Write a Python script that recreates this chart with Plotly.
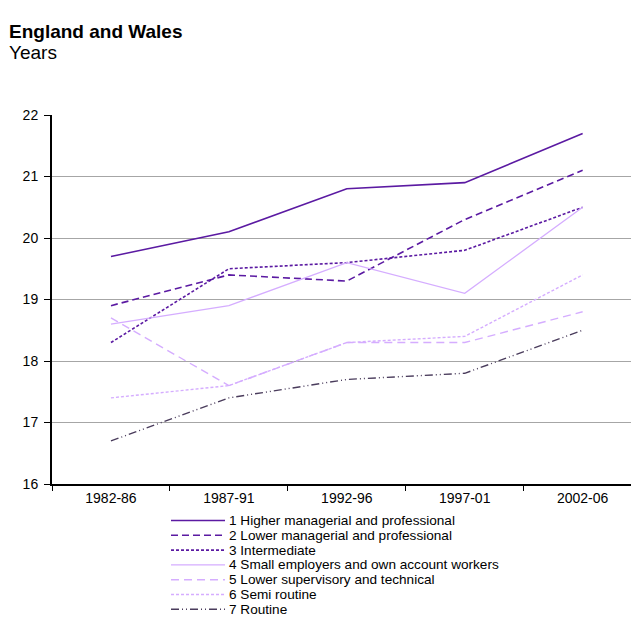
import plotly.graph_objects as go

# Average age by socio-economic class, five-year periods
periods = ["1982-86", "1987-91", "1992-96", "1997-01", "2002-06"]

names = [
    "1 Higher managerial and professional",
    "2 Lower managerial and professional",
    "3 Intermediate",
    "4 Small employers and own account workers",
    "5 Lower supervisory and technical",
    "6 Semi routine",
    "7 Routine",
]

higher_managerial = [19.7, 20.1, 20.8, 20.9, 21.7]
lower_managerial = [18.9, 19.4, 19.3, 20.3, 21.1]
intermediate = [18.3, 19.5, 19.6, 19.8, 20.5]
small_employers = [18.6, 18.9, 19.6, 19.1, 20.5]
lower_supervisory = [18.7, 17.6, 18.3, 18.3, 18.8]
semi_routine = [17.4, 17.6, 18.3, 18.4, 19.4]
routine = [16.7, 17.4, 17.7, 17.8, 18.5]

series = [higher_managerial, lower_managerial, intermediate, small_employers,
          lower_supervisory, semi_routine, routine]

DARK = "#5B1AA2"
LIGHT = "#D5ADFF"
GREY = "#4A3C5C"
styles = [
    (DARK, "solid", 1.6),
    (DARK, "7px,4px", 1.6),
    (DARK, "3px,2px", 1.6),
    (LIGHT, "solid", 1.3),
    (LIGHT, "8px,5px", 1.4),
    (LIGHT, "3px,2px", 1.4),
    (GREY, "8px,3px,1px,3px,1px,3px", 1.4),
]

FONT = "Liberation Sans, Arial, sans-serif"

fig = go.Figure()
for name, ys, (color, dash, width) in zip(names, series, styles):
    fig.add_trace(go.Scatter(
        x=periods, y=ys, name=name, mode="lines",
        line=dict(color=color, dash=dash, width=width),
        showlegend=False,
    ))

# Pixel geometry of the plotting area
W, H = 631, 617
L, R, T, B = 52, 0, 115, 133
pw, ph = W - L - R, H - T - B


def px_x(x):
    return (x - L) / pw


def px_y(y):
    return (H - B - y) / ph


# Hand-drawn legend below the axis
shapes = []
annotations = []
row_y = 520.5
for name, (color, dash, width) in zip(names, styles):
    shapes.append(dict(
        type="line", xref="paper", yref="paper",
        x0=px_x(171), x1=px_x(225), y0=px_y(row_y), y1=px_y(row_y),
        line=dict(color=color, dash=dash, width=width),
    ))
    annotations.append(dict(
        text=name, xref="paper", yref="paper",
        x=px_x(227), y=px_y(row_y), xanchor="left", yanchor="middle",
        showarrow=False, font=dict(size=13.6, color="#000000", family=FONT),
    ))
    row_y += 14.8

annotations.append(dict(
    text="<b>England and Wales</b>", xref="paper", yref="paper",
    x=px_x(7), y=px_y(31), xanchor="left", yanchor="middle",
    showarrow=False, font=dict(size=19, color="#000000", family=FONT),
))
annotations.append(dict(
    text="Years", xref="paper", yref="paper",
    x=px_x(7), y=px_y(52), xanchor="left", yanchor="middle",
    showarrow=False, font=dict(size=19, color="#000000", family=FONT),
))

fig.update_layout(
    width=W, height=H,
    margin=dict(l=L, r=R, t=T, b=B),
    paper_bgcolor="white", plot_bgcolor="white",
    font=dict(family=FONT, size=14, color="#000000"),
    shapes=shapes, annotations=annotations,
    xaxis=dict(
        type="category", range=[-0.5, 4.41],
        tickson="boundaries", ticks="outside", ticklen=5, tickwidth=1,
        tickcolor="#000000", showline=True, linecolor="#000000", linewidth=2,
        showgrid=False, zeroline=False,
        tickfont=dict(size=14, color="#000000", family=FONT),
    ),
    yaxis=dict(
        range=[16, 22], dtick=1, ticks="outside", ticklen=6, tickwidth=1,
        tickcolor="#000000", showline=True, linecolor="#000000", linewidth=2,
        showgrid=True, gridcolor="#A6A6A6", gridwidth=1.3, zeroline=False,
        ticklabelstandoff=3,
        tickfont=dict(size=14, color="#000000", family=FONT),
    ),
)

fig.write_html("out.html")
